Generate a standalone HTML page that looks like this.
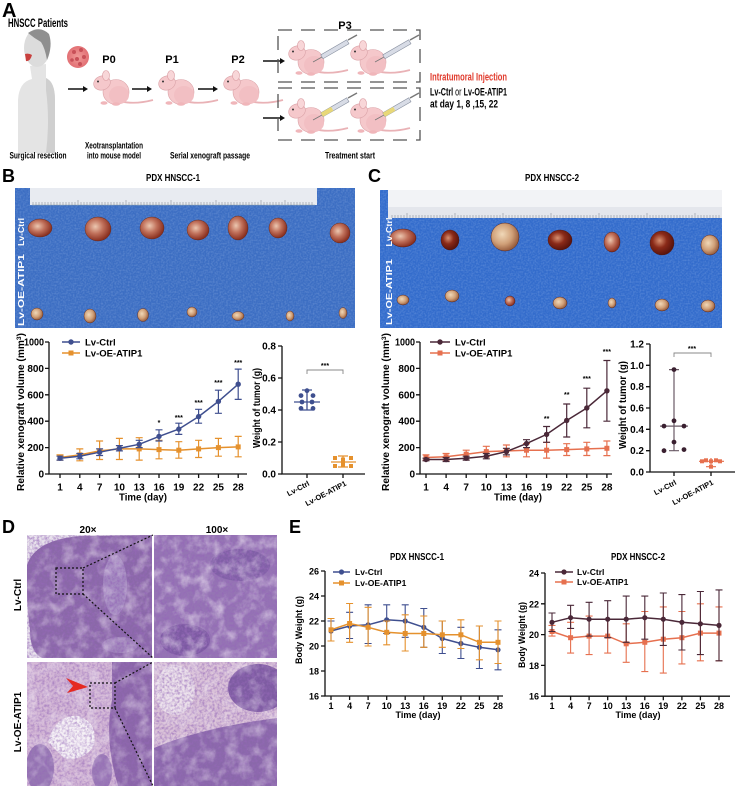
<!DOCTYPE html>
<html><head><meta charset="utf-8"><style>
html,body{margin:0;padding:0;background:#fff;}
body{width:739px;height:786px;overflow:hidden;}
svg{display:block;}
text{font-family:"Liberation Sans",Arial,sans-serif;font-weight:bold;}
</style></head><body>
<svg width="739" height="786" viewBox="0 0 739 786" xmlns="http://www.w3.org/2000/svg">
<defs>
<filter id="pnoise" x="0" y="0" width="1" height="1"><feTurbulence type="fractalNoise" baseFrequency="0.4" numOctaves="3" seed="4"/><feColorMatrix type="matrix" values="0 0 0 0 0.3  0 0 0 0 0.14  0 0 0 0 0.48  2.4 0 0 0 -0.9"/></filter>
<filter id="wnoise" x="0" y="0" width="1" height="1"><feTurbulence type="fractalNoise" baseFrequency="0.08" numOctaves="4" seed="9"/><feColorMatrix type="matrix" values="0 0 0 0 0.9  0 0 0 0 0.84  0 0 0 0 0.92  2.4 0 0 0 -1.05"/></filter>
<filter id="bnoise" x="0" y="0" width="1" height="1"><feTurbulence type="fractalNoise" baseFrequency="0.6" numOctaves="1" seed="2"/><feColorMatrix type="matrix" values="0 0 0 0 0.7  0 0 0 0 0.82  0 0 0 0 1  1.2 0 0 0 -0.45"/></filter>
<radialGradient id="tum" cx="40%" cy="40%" r="60%"><stop offset="0" stop-color="#ecc7b0"/><stop offset="0.5" stop-color="#c0705a"/><stop offset="1" stop-color="#8a3020"/></radialGradient>
<radialGradient id="tumd" cx="40%" cy="40%" r="60%"><stop offset="0" stop-color="#d89070"/><stop offset="0.5" stop-color="#8a2a18"/><stop offset="1" stop-color="#5a140c"/></radialGradient>
<radialGradient id="tums" cx="40%" cy="40%" r="60%"><stop offset="0" stop-color="#f0d8b8"/><stop offset="0.6" stop-color="#d0a078"/><stop offset="1" stop-color="#9a6040"/></radialGradient>
<radialGradient id="tball" cx="50%" cy="50%" r="50%"><stop offset="0" stop-color="#f09a98"/><stop offset="1" stop-color="#e27074"/></radialGradient>
<g id="mouse">
<path d="M27,31 Q42,35 61,30" stroke="#e9b2b6" stroke-width="1.8" fill="none"/>
<ellipse cx="24" cy="22" rx="13" ry="12.5" fill="#f5c8cb" stroke="#dba3a8" stroke-width="0.6"/>
<ellipse cx="27" cy="25" rx="10" ry="9" fill="#f2bfc3"/>
<ellipse cx="10" cy="13" rx="8.5" ry="7" fill="#f5c8cb" stroke="#dba3a8" stroke-width="0.6" transform="rotate(-20 10 13)"/>
<ellipse cx="14" cy="5.5" rx="3.5" ry="5" fill="#f8d6d8" stroke="#d99aa0" stroke-width="0.6"/>
<circle cx="6" cy="11.5" r="1" fill="#333"/>
<ellipse cx="12" cy="33" rx="3.5" ry="1.8" fill="#f0b6ba"/>
<ellipse cx="24" cy="34" rx="4" ry="1.8" fill="#f0b6ba"/>
</g>
</defs>

<!-- ============ PANEL A ============ -->
<text x="2" y="17" font-size="20">A</text>
<text x="8" y="27" font-size="12" textLength="60" lengthAdjust="spacingAndGlyphs">HNSCC Patients</text>
<!-- person -->
<path d="M18,153 L18,100 Q19,82 32,79 L30,66 L46,64 L46,78 Q55,82 55,100 L55,153 Z" fill="#e4e4e4"/>
<path d="M46,78 Q55,82 55,100 L55,153 L46,153 Q50,120 46,90 Z" fill="#cfcfcf"/>
<ellipse cx="37" cy="48" rx="13" ry="19" fill="#dcdcdc"/>
<path d="M28,33 Q40,25 49,34 Q53,46 47,60 Q45,48 41,42 Q34,38 28,33 Z" fill="#8f8f8f"/>
<path d="M25,54 Q29,53 32,55 Q30,62 26,61 Z" fill="#c8403e"/>
<!-- tumour ball -->
<circle cx="78" cy="57" r="11" fill="url(#tball)"/>
<g fill="#c85058"><circle cx="74" cy="52" r="2"/><circle cx="81" cy="50" r="2"/><circle cx="84" cy="57" r="2"/><circle cx="77" cy="59" r="2"/><circle cx="72" cy="60" r="1.8"/><circle cx="80" cy="64" r="2"/></g>
<!-- labels -->
<g font-size="11" text-anchor="middle">
<text x="109" y="63">P0</text>
<text x="172" y="63">P1</text>
<text x="238" y="63">P2</text>
<text x="345" y="29">P3</text>
</g>
<!-- arrows -->
<g stroke="#111" stroke-width="1.4" fill="#111">
<line x1="68" y1="89" x2="85" y2="89"/><path d="M88,89 l-5,-3 v6 z" stroke="none"/>
<line x1="132" y1="89" x2="149" y2="89"/><path d="M152,89 l-5,-3 v6 z" stroke="none"/>
<line x1="198" y1="89" x2="215" y2="89"/><path d="M218,89 l-5,-3 v6 z" stroke="none"/>
<line x1="263" y1="61" x2="282" y2="61"/><path d="M285,61 l-5,-3 v6 z" stroke="none"/>
<line x1="263" y1="118" x2="282" y2="118"/><path d="M285,118 l-5,-3 v6 z" stroke="none"/>
</g>
<!-- mice -->
<use href="#mouse" transform="translate(92,70)"/>
<use href="#mouse" transform="translate(157,70)"/>
<use href="#mouse" transform="translate(222,70)"/>
<!-- dashed boxes -->
<g stroke="#555" stroke-width="1.3" fill="none" stroke-dasharray="14,9">
<rect x="278" y="30" width="142" height="52"/>
<rect x="278" y="88" width="142" height="52"/>
</g>
<use href="#mouse" transform="translate(287,40)"/>
<use href="#mouse" transform="translate(349,40)"/>
<use href="#mouse" transform="translate(287,98)"/>
<use href="#mouse" transform="translate(349,98)"/>
<!-- syringes -->
<g>
<line x1="313" y1="62" x2="322" y2="57" stroke="#777" stroke-width="0.8"/>
<rect x="322" y="54.5" width="30" height="4.5" fill="#d8dce6" stroke="#8890a0" stroke-width="0.6" transform="rotate(-30 322 57)"/>
<line x1="348" y1="40" x2="357" y2="35" stroke="#777" stroke-width="1.4"/>
<line x1="375" y1="62" x2="384" y2="57" stroke="#777" stroke-width="0.8"/>
<rect x="384" y="54.5" width="30" height="4.5" fill="#d8dce6" stroke="#8890a0" stroke-width="0.6" transform="rotate(-30 384 57)"/>
<line x1="410" y1="40" x2="419" y2="35" stroke="#777" stroke-width="1.4"/>
<line x1="313" y1="120" x2="322" y2="115" stroke="#777" stroke-width="0.8"/>
<rect x="322" y="112.5" width="30" height="4.5" fill="#d8dce6" stroke="#8890a0" stroke-width="0.6" transform="rotate(-30 322 115)"/>
<rect x="322" y="112.5" width="12" height="4.5" fill="#e8d878" transform="rotate(-30 322 115)"/>
<line x1="348" y1="98" x2="357" y2="93" stroke="#777" stroke-width="1.4"/>
<line x1="375" y1="120" x2="384" y2="115" stroke="#777" stroke-width="0.8"/>
<rect x="384" y="112.5" width="30" height="4.5" fill="#d8dce6" stroke="#8890a0" stroke-width="0.6" transform="rotate(-30 384 115)"/>
<rect x="384" y="112.5" width="12" height="4.5" fill="#e8d878" transform="rotate(-30 384 115)"/>
<line x1="410" y1="98" x2="419" y2="93" stroke="#777" stroke-width="1.4"/>
</g>
<text x="430" y="80.5" font-size="11" fill="#e0382a" textLength="77" lengthAdjust="spacingAndGlyphs">Intratumoral Injection</text>
<text x="430" y="95.5" font-size="11" textLength="77" lengthAdjust="spacingAndGlyphs">Lv-Ctrl <tspan font-weight="normal">or</tspan> Lv-OE-ATIP1</text>
<text x="430" y="107.5" font-size="11" textLength="68" lengthAdjust="spacingAndGlyphs">at day 1, 8 ,15, 22</text>
<g font-size="9" text-anchor="middle">
<text x="38" y="158.5" textLength="57" lengthAdjust="spacingAndGlyphs">Surgical resection</text>
<text x="114" y="148.5" textLength="58" lengthAdjust="spacingAndGlyphs">Xeotransplantation</text>
<text x="114" y="158.5" textLength="54" lengthAdjust="spacingAndGlyphs">into mouse model</text>
<text x="210" y="158.5" textLength="80" lengthAdjust="spacingAndGlyphs">Serial xenograft passage</text>
<text x="350" y="158.5" textLength="50" lengthAdjust="spacingAndGlyphs">Treatment start</text>
</g>

<!-- ============ PANEL B ============ -->
<text x="2" y="182" font-size="18">B</text>
<text x="173" y="181" font-size="10.5" text-anchor="middle" textLength="54" lengthAdjust="spacingAndGlyphs">PDX HNSCC-1</text>
<rect x="15" y="188" width="340" height="140" fill="#3c6ec3"/>
<rect x="15" y="188" width="340" height="140" filter="url(#bnoise)" opacity="0.35"/>
<rect x="30" y="188" width="287" height="17" fill="#e8ebf1"/>
<path d="M32,205 h283" stroke="#9aa" stroke-width="0.5"/>
<g stroke="#8a8f9a" stroke-width="0.6">
<path d="M33,205v-3M36,205v-3M39,205v-3M42,205v-3M45,205v-3M48,205v-3M51,205v-3M54,205v-3M57,205v-3M60,205v-3M63,205v-3M66,205v-3M69,205v-3M72,205v-3M75,205v-3M78,205v-5M81,205v-3M84,205v-3M87,205v-3M90,205v-3M93,205v-3M96,205v-3M99,205v-3M102,205v-3M105,205v-3M108,205v-3M111,205v-3M114,205v-3M117,205v-3M120,205v-3M123,205v-3M126,205v-5M129,205v-3M132,205v-3M135,205v-3M138,205v-3M141,205v-3M144,205v-3M147,205v-3M150,205v-3M153,205v-3M156,205v-3M159,205v-3M162,205v-3M165,205v-3M168,205v-3M171,205v-5M174,205v-3M177,205v-3M180,205v-3M183,205v-3M186,205v-3M189,205v-3M192,205v-3M195,205v-3M198,205v-3M201,205v-3M204,205v-3M207,205v-3M210,205v-3M213,205v-3M216,205v-5M219,205v-3M222,205v-3M225,205v-3M228,205v-3M231,205v-3M234,205v-3M237,205v-3M240,205v-3M243,205v-3M246,205v-3M249,205v-3M252,205v-3M255,205v-3M258,205v-3M261,205v-5M264,205v-3M267,205v-3M270,205v-3M273,205v-3M276,205v-3M279,205v-3M282,205v-3M285,205v-5M288,205v-3M291,205v-3M294,205v-3M297,205v-3M300,205v-3M303,205v-3M306,205v-3M309,205v-3M312,205v-3"/>
</g>
<!-- tumours B -->
<g stroke="#5a2010" stroke-width="0.4">
<ellipse cx="40" cy="228" rx="12" ry="9" fill="url(#tum)"/>
<ellipse cx="98" cy="229" rx="13" ry="12" fill="url(#tum)"/>
<ellipse cx="152" cy="228" rx="12" ry="11" fill="url(#tum)"/>
<ellipse cx="198" cy="230" rx="11" ry="10" fill="url(#tum)"/>
<ellipse cx="238" cy="228" rx="10" ry="12" fill="url(#tum)"/>
<ellipse cx="278" cy="228" rx="9" ry="10" fill="url(#tum)"/>
<ellipse cx="340" cy="233" rx="10" ry="10" fill="url(#tum)"/>
<ellipse cx="37" cy="314" rx="6" ry="6" fill="url(#tums)"/>
<ellipse cx="90" cy="316" rx="6" ry="7" fill="url(#tums)"/>
<ellipse cx="143" cy="315" rx="5.5" ry="6.5" fill="url(#tums)"/>
<ellipse cx="192" cy="312" rx="5" ry="5" fill="url(#tums)"/>
<ellipse cx="238" cy="316" rx="6" ry="4.5" fill="url(#tums)"/>
<ellipse cx="290" cy="316" rx="4" ry="5" fill="url(#tums)"/>
<ellipse cx="343" cy="313" rx="4" ry="5.5" fill="url(#tums)"/>
</g>
<text transform="translate(24,232) rotate(-90)" font-size="8.5" fill="#fff" text-anchor="middle" textLength="28" lengthAdjust="spacingAndGlyphs">Lv-Ctrl</text>
<text transform="translate(24,290) rotate(-90)" font-size="8.5" fill="#fff" text-anchor="middle" textLength="72" lengthAdjust="spacingAndGlyphs">Lv-OE-ATIP1</text>

<!-- B line chart -->
<g stroke="#111" stroke-width="1.3" fill="none">
<path d="M49,342V474H247"/>
<path d="M45,474h4M45,447.6h4M45,421.2h4M45,394.8h4M45,368.4h4M45,342h4"/>
<path d="M60,474v4M79.8,474v4M99.6,474v4M119.4,474v4M139.2,474v4M159,474v4M178.8,474v4M198.6,474v4M218.4,474v4M238.2,474v4"/>
</g>
<g font-size="10" text-anchor="end">
<text x="44" y="477.5">0</text><text x="44" y="451">200</text><text x="44" y="424.7">400</text><text x="44" y="398.3">600</text><text x="44" y="371.9">800</text><text x="44" y="345.5" textLength="20" lengthAdjust="spacingAndGlyphs">1000</text>
</g>
<g font-size="10" text-anchor="middle">
<text x="60" y="490.5">1</text><text x="79.8" y="490.5">4</text><text x="99.6" y="490.5">7</text><text x="119.4" y="490.5">10</text><text x="139.2" y="490.5">13</text><text x="159" y="490.5">16</text><text x="178.8" y="490.5">19</text><text x="198.6" y="490.5">22</text><text x="218.4" y="490.5">25</text><text x="238.2" y="490.5">28</text>
<text x="143" y="500.5" textLength="48" lengthAdjust="spacingAndGlyphs">Time (day)</text>
</g>
<text transform="translate(24,412) rotate(-90)" font-size="10" text-anchor="middle" textLength="158" lengthAdjust="spacingAndGlyphs">Relative xenograft volume (mm<tspan font-size="6.5" dy="-3">3</tspan><tspan dy="3">)</tspan></text>
<!-- OE B -->
<g stroke="#e5912d" stroke-width="1.2" fill="none">
<path d="M60,460.1V454.9M56.5,460.1h7M56.5,454.9h7M79.8,460.8V448.9M76.3,460.8h7M76.3,448.9h7M99.6,459.5V441M96.1,459.5h7M96.1,441h7M119.4,459.5V438.4M115.9,459.5h7M115.9,438.4h7M139.2,460.1V437.7M135.7,460.1h7M135.7,437.7h7M159,458.8V440.3M155.5,458.8h7M155.5,440.3h7M178.8,458.2V441.7M175.3,458.2h7M175.3,441.7h7M198.6,457.5V440.3M195.1,457.5h7M195.1,440.3h7M218.4,456.2V438.4M214.9,456.2h7M214.9,438.4h7M238.2,456.8V436.4M234.7,456.8h7M234.7,436.4h7"/>
<path d="M60,457.5L79.8,454.9L99.6,450.9L119.4,448.9L139.2,448.9L159,449.6L178.8,450.2L198.6,448.9L218.4,447.6L238.2,446.9" stroke-width="1.5"/>
</g>
<g fill="#e5912d">
<rect x="57.5" y="455" width="5" height="5"/><rect x="77.3" y="452.4" width="5" height="5"/><rect x="97.1" y="448.4" width="5" height="5"/><rect x="116.9" y="446.4" width="5" height="5"/><rect x="136.7" y="446.4" width="5" height="5"/><rect x="156.5" y="447.1" width="5" height="5"/><rect x="176.3" y="447.7" width="5" height="5"/><rect x="196.1" y="446.4" width="5" height="5"/><rect x="215.9" y="445.1" width="5" height="5"/><rect x="235.7" y="444.4" width="5" height="5"/>
</g>
<!-- Ctrl B -->
<g stroke="#3f4f8f" stroke-width="1.2" fill="none">
<path d="M60,460.1V456.2M56.5,460.1h7M56.5,456.2h7M79.8,458.8V453.5M76.3,458.8h7M76.3,453.5h7M99.6,455.5V448.9M96.1,455.5h7M96.1,448.9h7M119.4,450.9V445.6M115.9,450.9h7M115.9,445.6h7M139.2,447.6V440.3M135.7,447.6h7M135.7,440.3h7M159,441V429.8M155.5,441h7M155.5,429.8h7M178.8,434.4V423.2M175.3,434.4h7M175.3,423.2h7M198.6,423.2V409.3M195.1,423.2h7M195.1,409.3h7M218.4,413.3V390.2M214.9,413.3h7M214.9,390.2h7M238.2,399.4V369.1M234.7,399.4h7M234.7,369.1h7"/>
<path d="M60,458.2L79.8,456.2L99.6,452.2L119.4,448.3L139.2,444.3L159,436.4L178.8,429.1L198.6,416.6L218.4,401.4L238.2,384.2" stroke-width="1.5"/>
</g>
<g fill="#3f4f8f">
<circle cx="60" cy="458.2" r="2.7"/><circle cx="79.8" cy="456.2" r="2.7"/><circle cx="99.6" cy="452.2" r="2.7"/><circle cx="119.4" cy="448.3" r="2.7"/><circle cx="139.2" cy="444.3" r="2.7"/><circle cx="159" cy="436.4" r="2.7"/><circle cx="178.8" cy="429.1" r="2.7"/><circle cx="198.6" cy="416.6" r="2.7"/><circle cx="218.4" cy="401.4" r="2.7"/><circle cx="238.2" cy="384.2" r="2.7"/>
</g>
<g font-size="7" text-anchor="middle">
<text x="159" y="425">*</text><text x="178.8" y="420">***</text><text x="198.6" y="405">***</text><text x="218.4" y="385">***</text><text x="238.2" y="365">***</text>
</g>
<!-- legend B -->
<g stroke-width="1.5">
<line x1="62" y1="342" x2="80" y2="342" stroke="#3f4f8f"/><circle cx="71" cy="342" r="2.7" fill="#3f4f8f"/>
<line x1="62" y1="353" x2="80" y2="353" stroke="#e5912d"/><rect x="68.5" y="350.5" width="5" height="5" fill="#e5912d"/>
</g>
<text x="85" y="345.5" font-size="9.5">Lv-Ctrl</text>
<text x="85" y="356.5" font-size="9.5">Lv-OE-ATIP1</text>

<!-- B scatter -->
<g stroke="#111" stroke-width="1.3" fill="none">
<path d="M282,346V474H365"/>
<path d="M278,474h4M278,442h4M278,410h4M278,378h4M278,346h4"/>
<path d="M307,474v4M343,474v4"/>
</g>
<g font-size="10" text-anchor="end">
<text x="276" y="477.5">0.0</text><text x="276" y="445.5">0.2</text><text x="276" y="413.5">0.4</text><text x="276" y="381.5">0.6</text><text x="276" y="349.5">0.8</text>
</g>
<text transform="translate(260,408) rotate(-90)" font-size="10" text-anchor="middle" textLength="80" lengthAdjust="spacingAndGlyphs">Weight of tumor (g)</text>
<path d="M307,374V370H343V374" stroke="#888" stroke-width="0.9" fill="none"/>
<text x="325" y="368" font-size="7" text-anchor="middle">***</text>
<g fill="#3f4f8f">
<circle cx="307" cy="390.7" r="2.4"/><circle cx="301" cy="395.6" r="2.4"/><circle cx="313" cy="395.6" r="2.4"/><circle cx="302" cy="402" r="2.4"/><circle cx="312" cy="402" r="2.4"/><circle cx="301" cy="408.4" r="2.4"/><circle cx="313" cy="408.4" r="2.4"/>
</g>
<path d="M294,402H320M307,390V410M302,390h10M302,410h10" stroke="#3f4f8f" stroke-width="1.3" fill="none"/>
<g fill="#e5912d">
<rect x="333" y="456" width="4" height="4"/><rect x="349" y="456" width="4" height="4"/><rect x="341" y="457.5" width="4" height="4"/><rect x="341" y="462.5" width="4" height="4"/><rect x="333" y="464" width="4" height="4"/><rect x="349" y="464" width="4" height="4"/>
</g>
<path d="M331,462H356M343,456V467M338,456h10M338,467h10" stroke="#e5912d" stroke-width="1.3" fill="none"/>
<text transform="translate(310,485) rotate(-28)" font-size="7.5" text-anchor="end">Lv-Ctrl</text>
<text transform="translate(347,485) rotate(-28)" font-size="7.5" text-anchor="end">Lv-OE-ATIP1</text>

<!-- ============ PANEL C ============ -->
<text x="368" y="182" font-size="18">C</text>
<text x="552" y="181" font-size="10.5" text-anchor="middle" textLength="54" lengthAdjust="spacingAndGlyphs">PDX HNSCC-2</text>
<rect x="380" y="190" width="342" height="138" fill="#336ccc"/>
<rect x="380" y="190" width="342" height="138" filter="url(#bnoise)" opacity="0.35"/>
<rect x="388" y="190" width="334" height="28" fill="#f2f3f6"/>
<rect x="388" y="207" width="334" height="11" fill="#e4e6ec"/>
<g stroke="#8a8f9a" stroke-width="0.6">
<path d="M392,218v-3M395,218v-3M398,218v-3M401,218v-3M404,218v-3M407,218v-5M410,218v-3M413,218v-3M416,218v-3M419,218v-3M422,218v-3M425,218v-3M428,218v-3M431,218v-3M434,218v-3M437,218v-3M440,218v-3M443,218v-3M446,218v-3M449,218v-3M452,218v-3M455,218v-5M458,218v-3M461,218v-3M464,218v-3M467,218v-3M470,218v-3M473,218v-3M476,218v-3M479,218v-3M482,218v-3M485,218v-3M488,218v-3M491,218v-3M494,218v-3M497,218v-3M500,218v-3M503,218v-5M506,218v-3M509,218v-3M512,218v-3M515,218v-3M518,218v-3M521,218v-3M524,218v-3M527,218v-3M530,218v-3M533,218v-3M536,218v-3M539,218v-3M542,218v-3M545,218v-3M548,218v-3M551,218v-5M554,218v-3M557,218v-3M560,218v-3M563,218v-3M566,218v-3M569,218v-3M572,218v-3M575,218v-3M578,218v-3M581,218v-3M584,218v-3M587,218v-3M590,218v-3M593,218v-3M596,218v-3M599,218v-5M602,218v-3M605,218v-3M608,218v-3M611,218v-3M614,218v-3M617,218v-3M620,218v-3M623,218v-3M626,218v-3M629,218v-3M632,218v-3M635,218v-3M638,218v-3M641,218v-3M644,218v-3M647,218v-5M650,218v-3M653,218v-3M656,218v-3M659,218v-3M662,218v-3M665,218v-3M668,218v-3M671,218v-3M674,218v-3M677,218v-3M680,218v-3M683,218v-3M686,218v-3M689,218v-3M692,218v-3M695,218v-5M698,218v-3M701,218v-3M704,218v-3M707,218v-3M710,218v-3M713,218v-3M716,218v-3M719,218v-3"/>
</g>
<g stroke="#4a1008" stroke-width="0.4">
<ellipse cx="403" cy="238" rx="13" ry="9" fill="url(#tum)"/>
<ellipse cx="450" cy="240" rx="9" ry="10" fill="url(#tumd)"/>
<ellipse cx="505" cy="237" rx="14" ry="14" fill="url(#tums)"/>
<ellipse cx="560" cy="240" rx="12" ry="10" fill="url(#tumd)"/>
<ellipse cx="612" cy="242" rx="8" ry="10" fill="url(#tum)"/>
<ellipse cx="662" cy="243" rx="12" ry="12" fill="url(#tumd)"/>
<ellipse cx="710" cy="245" rx="9" ry="10" fill="url(#tums)"/>
<ellipse cx="403" cy="300" rx="6" ry="5" fill="url(#tums)"/>
<ellipse cx="452" cy="296" rx="7" ry="6" fill="url(#tums)"/>
<ellipse cx="510" cy="301" rx="5" ry="5" fill="url(#tum)"/>
<ellipse cx="560" cy="303" rx="7" ry="6" fill="url(#tums)"/>
<ellipse cx="612" cy="303" rx="4" ry="5" fill="url(#tums)"/>
<ellipse cx="662" cy="305" rx="7" ry="6" fill="url(#tums)"/>
<ellipse cx="708" cy="306" rx="7" ry="6" fill="url(#tums)"/>
</g>
<text transform="translate(392,232) rotate(-90)" font-size="8.5" fill="#fff" text-anchor="middle" textLength="29" lengthAdjust="spacingAndGlyphs">Lv-Ctrl</text>
<text transform="translate(392,292) rotate(-90)" font-size="8.5" fill="#fff" text-anchor="middle" textLength="66" lengthAdjust="spacingAndGlyphs">Lv-OE-ATIP1</text>

<!-- C line chart -->
<g stroke="#111" stroke-width="1.3" fill="none">
<path d="M420,342V474H612"/>
<path d="M416,474h4M416,447.6h4M416,421.2h4M416,394.8h4M416,368.4h4M416,342h4"/>
<path d="M426,474v4M446.1,474v4M466.2,474v4M486.3,474v4M506.4,474v4M526.5,474v4M546.6,474v4M566.7,474v4M586.8,474v4M606.9,474v4"/>
</g>
<g font-size="10" text-anchor="end">
<text x="415" y="477.5">0</text><text x="415" y="451">200</text><text x="415" y="424.7">400</text><text x="415" y="398.3">600</text><text x="415" y="371.9">800</text><text x="415" y="345.5" textLength="20" lengthAdjust="spacingAndGlyphs">1000</text>
</g>
<g font-size="10" text-anchor="middle">
<text x="426" y="490.5">1</text><text x="446.1" y="490.5">4</text><text x="466.2" y="490.5">7</text><text x="486.3" y="490.5">10</text><text x="506.4" y="490.5">13</text><text x="526.5" y="490.5">16</text><text x="546.6" y="490.5">19</text><text x="566.7" y="490.5">22</text><text x="586.8" y="490.5">25</text><text x="606.9" y="490.5">28</text>
<text x="518" y="500.5" textLength="48" lengthAdjust="spacingAndGlyphs">Time (day)</text>
</g>
<text transform="translate(389,412) rotate(-90)" font-size="10" text-anchor="middle" textLength="158" lengthAdjust="spacingAndGlyphs">Relative xenograft volume (mm<tspan font-size="6.5" dy="-3">3</tspan><tspan dy="3">)</tspan></text>
<g stroke="#e6704f" stroke-width="1.2" fill="none">
<path d="M426,460.1V454.9M422.5,460.1h7M422.5,454.9h7M446.1,460.1V453.5M442.6,460.1h7M442.6,453.5h7M466.2,458.2V450.2M462.7,458.2h7M462.7,450.2h7M486.3,456.9V446.3M482.8,456.9h7M482.8,446.3h7M506.4,456.8V445M502.9,456.8h7M502.9,445h7M526.5,456.8V443.6M523,456.8h7M523,443.6h7M546.6,458.1V442.3M543.1,458.1h7M543.1,442.3h7M566.7,455.5V443.7M563.2,455.5h7M563.2,443.7h7M586.8,455.5V442.3M583.3,455.5h7M583.3,442.3h7M606.9,455.6V441M603.4,455.6h7M603.4,441h7"/>
<path d="M426,457.5L446.1,456.8L466.2,454.2L486.3,451.6L506.4,450.9L526.5,450.2L546.6,450.2L566.7,449.6L586.8,448.9L606.9,448.3" stroke-width="1.5"/>
</g>
<g fill="#e6704f">
<rect x="423.5" y="455" width="5" height="5"/><rect x="443.6" y="454.3" width="5" height="5"/><rect x="463.7" y="451.7" width="5" height="5"/><rect x="483.8" y="449.1" width="5" height="5"/><rect x="503.9" y="448.4" width="5" height="5"/><rect x="524" y="447.7" width="5" height="5"/><rect x="544.1" y="447.7" width="5" height="5"/><rect x="564.2" y="447.1" width="5" height="5"/><rect x="584.3" y="446.4" width="5" height="5"/><rect x="604.4" y="445.8" width="5" height="5"/>
</g>
<g stroke="#4a2838" stroke-width="1.2" fill="none">
<path d="M426,460.8V458.2M422.5,460.8h7M422.5,458.2h7M446.1,461.5V457.5M442.6,461.5h7M442.6,457.5h7M466.2,460.1V456.2M462.7,460.1h7M462.7,456.2h7M486.3,458.8V453.5M482.8,458.8h7M482.8,453.5h7M506.4,454.9V448.3M502.9,454.9h7M502.9,448.3h7M526.5,447.6V439.7M523,447.6h7M523,439.7h7M546.6,442.3V426.5M543.1,442.3h7M543.1,426.5h7M566.7,437V404M563.2,437h7M563.2,404h7M586.8,427.8V388.2M583.3,427.8h7M583.3,388.2h7M606.9,421.2V360.5M603.4,421.2h7M603.4,360.5h7"/>
<path d="M426,459.5L446.1,459.5L466.2,458.2L486.3,456.2L506.4,451.6L526.5,443.6L546.6,434.4L566.7,420.5L586.8,408L606.9,390.8" stroke-width="1.5"/>
</g>
<g fill="#4a2838">
<circle cx="426" cy="459.5" r="2.7"/><circle cx="446.1" cy="459.5" r="2.7"/><circle cx="466.2" cy="458.2" r="2.7"/><circle cx="486.3" cy="456.2" r="2.7"/><circle cx="506.4" cy="451.6" r="2.7"/><circle cx="526.5" cy="443.6" r="2.7"/><circle cx="546.6" cy="434.4" r="2.7"/><circle cx="566.7" cy="420.5" r="2.7"/><circle cx="586.8" cy="408" r="2.7"/><circle cx="606.9" cy="390.8" r="2.7"/>
</g>
<g font-size="7" text-anchor="middle">
<text x="546.6" y="421">**</text><text x="566.7" y="397">**</text><text x="586.8" y="381">***</text><text x="606.9" y="354">***</text>
</g>
<g stroke-width="1.5">
<line x1="430" y1="342" x2="450" y2="342" stroke="#4a2838"/><circle cx="440" cy="342" r="2.7" fill="#4a2838"/>
<line x1="430" y1="353" x2="450" y2="353" stroke="#e6704f"/><rect x="437.5" y="350.5" width="5" height="5" fill="#e6704f"/>
</g>
<text x="455" y="345.5" font-size="9.5">Lv-Ctrl</text>
<text x="455" y="356.5" font-size="9.5">Lv-OE-ATIP1</text>

<!-- C scatter -->
<g stroke="#111" stroke-width="1.3" fill="none">
<path d="M650,344V472H735"/>
<path d="M646,472h4M646,450.7h4M646,429.3h4M646,408h4M646,386.7h4M646,365.3h4M646,344h4"/>
<path d="M674,472v4M711,472v4"/>
</g>
<g font-size="10" text-anchor="end">
<text x="644" y="475.5">0.0</text><text x="644" y="454.2">0.2</text><text x="644" y="432.8">0.4</text><text x="644" y="411.5">0.6</text><text x="644" y="390.2">0.8</text><text x="644" y="368.8">1.0</text><text x="644" y="347.5">1.2</text>
</g>
<text transform="translate(626,405) rotate(-90)" font-size="10" text-anchor="middle" textLength="88" lengthAdjust="spacingAndGlyphs">Weight of tumor (g)</text>
<path d="M674,357V353H711V357" stroke="#888" stroke-width="0.9" fill="none"/>
<text x="692" y="351" font-size="7" text-anchor="middle">***</text>
<path d="M660,426.1H688M674,369.6V450.7M669,369.6h10M669,450.7h10" stroke="#6a5a66" stroke-width="1.2" fill="none"/>
<g fill="#3a2030">
<circle cx="674" cy="369.6" r="2.4"/><circle cx="674" cy="420.8" r="2.4"/><circle cx="664" cy="426.1" r="2.4"/><circle cx="684" cy="426.1" r="2.4"/><circle cx="674" cy="442.1" r="2.4"/><circle cx="664" cy="450.7" r="2.4"/><circle cx="684" cy="449.6" r="2.4"/>
</g>
<g fill="#e6704f">
<rect x="700" y="459.3" width="4" height="4"/><rect x="709" y="459.3" width="4" height="4"/><rect x="718" y="459.3" width="4" height="4"/><rect x="704" y="458.3" width="4" height="4"/><rect x="714" y="458.3" width="4" height="4"/><rect x="709" y="464.7" width="4" height="4"/>
</g>
<path d="M699,461.3H724M711,458V466.7M706,466.7h10" stroke="#e6704f" stroke-width="1.2" fill="none"/>
<text transform="translate(677,484) rotate(-28)" font-size="7.5" text-anchor="end">Lv-Ctrl</text>
<text transform="translate(714,484) rotate(-28)" font-size="7.5" text-anchor="end">Lv-OE-ATIP1</text>

<!-- ============ PANEL D ============ -->
<text x="2" y="533" font-size="18">D</text>
<text x="88" y="533" font-size="10" text-anchor="middle">20×</text>
<text x="217" y="533" font-size="10" text-anchor="middle">100×</text>
<text transform="translate(21,595) rotate(-90)" font-size="10" text-anchor="middle">Lv-Ctrl</text>
<text transform="translate(21,722) rotate(-90)" font-size="10" text-anchor="middle">Lv-OE-ATIP1</text>
<clipPath id="c1"><rect x="27" y="535" width="125" height="123"/></clipPath>
<clipPath id="c2"><rect x="154" y="535" width="123" height="123"/></clipPath>
<clipPath id="c3"><rect x="27" y="662" width="125" height="124"/></clipPath>
<clipPath id="c4"><rect x="154" y="662" width="123" height="124"/></clipPath>
<g clip-path="url(#c1)">
<rect x="27" y="535" width="125" height="123" fill="#e8e2ec"/>
<path d="M27,565 Q35,540 80,536 L152,535 L152,658 L42,658 Q30,652 30,630 Q27,610 27,590 Z" fill="#8a68a8"/>
<ellipse cx="115" cy="585" rx="12" ry="30" fill="#a48ac0"/>
<ellipse cx="120" cy="645" rx="18" ry="8" fill="#a085bb"/>
<rect x="27" y="535" width="125" height="123" filter="url(#pnoise)" opacity="0.75"/>
<rect x="27" y="535" width="125" height="123" filter="url(#wnoise)" opacity="0.45"/>
</g>
<g clip-path="url(#c2)">
<rect x="154" y="535" width="123" height="123" fill="#9575b4"/>
<ellipse cx="240" cy="565" rx="30" ry="16" fill="#8060a6"/>
<ellipse cx="185" cy="640" rx="25" ry="16" fill="#7c5aa2"/>
<rect x="154" y="535" width="123" height="123" filter="url(#pnoise)" opacity="0.8"/>
<rect x="154" y="535" width="123" height="123" filter="url(#wnoise)" opacity="0.55"/>
</g>
<g clip-path="url(#c3)">
<rect x="27" y="662" width="125" height="124" fill="#d4b8d6"/>
<path d="M112,662 L152,662 L152,786 L118,786 Q104,740 112,700 Z" fill="#8a66a8"/>
<ellipse cx="40" cy="768" rx="14" ry="24" fill="#9677b3"/>
<ellipse cx="102" cy="772" rx="10" ry="18" fill="#9a7ab6"/>
<path d="M48,742 Q56,714 78,716 Q98,722 94,745 Q84,762 64,758 Z" fill="#f6f2f6"/>
<rect x="27" y="662" width="125" height="124" filter="url(#pnoise)" opacity="0.6"/>
<rect x="27" y="662" width="125" height="124" filter="url(#wnoise)" opacity="0.45"/>
</g>
<g clip-path="url(#c4)">
<rect x="154" y="662" width="123" height="124" fill="#dac2d8"/>
<ellipse cx="258" cy="688" rx="30" ry="24" fill="#7e5ca2"/>
<path d="M154,748 Q200,728 277,718 L277,786 L154,786 Z" fill="#8a68aa"/>
<ellipse cx="175" cy="690" rx="20" ry="25" fill="#ebe0ea"/>
<rect x="154" y="662" width="123" height="124" filter="url(#pnoise)" opacity="0.65"/>
<rect x="154" y="662" width="123" height="124" filter="url(#wnoise)" opacity="0.45"/>
</g>
<g stroke="#111" stroke-width="1.2" fill="none" stroke-dasharray="2,2">
<rect x="56" y="568" width="27" height="26"/>
<path d="M83,568 L153,535 M83,594 L153,658"/>
<rect x="90" y="683" width="25" height="25"/>
<path d="M115,683 L153,662 M115,708 L153,786"/>
</g>
<path d="M88,687 L66,678 L73,686 L67,693 Z" fill="#e52a22"/>

<!-- ============ PANEL E ============ -->
<text x="289" y="533" font-size="18">E</text>
<!-- E1 -->
<text x="417" y="560" font-size="10" text-anchor="middle" textLength="54" lengthAdjust="spacingAndGlyphs">PDX HNSCC-1</text>
<g stroke="#111" stroke-width="1.3" fill="none">
<path d="M325,571V696H503"/>
<path d="M321,571h4M321,596h4M321,621h4M321,646h4M321,671h4M321,696h4"/>
<path d="M331,696v4M349.6,696v4M368.1,696v4M386.7,696v4M405.2,696v4M423.8,696v4M442.3,696v4M460.9,696v4M479.4,696v4M498,696v4"/>
</g>
<g font-size="9" text-anchor="end">
<text x="319" y="574.5">26</text><text x="319" y="599.5">24</text><text x="319" y="624.5">22</text><text x="319" y="649.5">20</text><text x="319" y="674.5">18</text><text x="319" y="699.5">16</text>
</g>
<g font-size="9" text-anchor="middle">
<text x="331" y="709">1</text><text x="349.6" y="709">4</text><text x="368.1" y="709">7</text><text x="386.7" y="709">10</text><text x="405.2" y="709">13</text><text x="423.8" y="709">16</text><text x="442.3" y="709">19</text><text x="460.9" y="709">22</text><text x="479.4" y="709">25</text><text x="498" y="709">28</text>
<text x="418" y="718" textLength="45" lengthAdjust="spacingAndGlyphs">Time (day)</text>
</g>
<text transform="translate(302,630) rotate(-90)" font-size="9.5" text-anchor="middle" textLength="68" lengthAdjust="spacingAndGlyphs">Body Weight (g)</text>
<g stroke="#3f4f8f" stroke-width="1.1" fill="none">
<path d="M331,641V621M327.5,641h7M327.5,621h7M349.6,638.5V612.3M346.1,638.5h7M346.1,612.3h7M368.1,643.5V604.8M364.6,643.5h7M364.6,604.8h7M386.7,633.5V604.8M383.2,633.5h7M383.2,604.8h7M405.2,637.3V604.8M401.7,637.3h7M401.7,604.8h7M423.8,647.3V608.5M420.3,647.3h7M420.3,608.5h7M442.3,653.5V621M438.8,653.5h7M438.8,621h7M460.9,658.5V627.3M457.4,658.5h7M457.4,627.3h7M479.4,668.5V626M475.9,668.5h7M475.9,626h7M498,669.8V629.8M494.5,669.8h7M494.5,629.8h7"/>
<path d="M331,631L349.6,626L368.1,624.8L386.7,619.8L405.2,621L423.8,627.3L442.3,638.5L460.9,643.5L479.4,647.3L498,649.8" stroke-width="1.5"/>
</g>
<g fill="#3f4f8f">
<circle cx="331" cy="631" r="2.6"/><circle cx="349.6" cy="626" r="2.6"/><circle cx="368.1" cy="624.8" r="2.6"/><circle cx="386.7" cy="619.8" r="2.6"/><circle cx="405.2" cy="621" r="2.6"/><circle cx="423.8" cy="627.3" r="2.6"/><circle cx="442.3" cy="638.5" r="2.6"/><circle cx="460.9" cy="643.5" r="2.6"/><circle cx="479.4" cy="647.3" r="2.6"/><circle cx="498" cy="649.8" r="2.6"/>
</g>
<g stroke="#e5912d" stroke-width="1.1" fill="none">
<path d="M331,641V618.5M327.5,641h7M327.5,618.5h7M349.6,642.3V603.5M346.1,642.3h7M346.1,603.5h7M368.1,646V607.3M364.6,646h7M364.6,607.3h7M386.7,644.8V621M383.2,644.8h7M383.2,621h7M405.2,651V614.8M401.7,651h7M401.7,614.8h7M423.8,647.3V616M420.3,647.3h7M420.3,616h7M442.3,647.3V621M438.8,647.3h7M438.8,621h7M460.9,648.5V619.8M457.4,648.5h7M457.4,619.8h7M479.4,659.8V626M475.9,659.8h7M475.9,626h7M498,663.5V621M494.5,663.5h7M494.5,621h7"/>
<path d="M331,629.8L349.6,623.5L368.1,627.3L386.7,632.3L405.2,633.5L423.8,633.5L442.3,634.8L460.9,634.8L479.4,642.3L498,642.3" stroke-width="1.5"/>
</g>
<g fill="#e5912d">
<rect x="328.5" y="627.3" width="5" height="5"/><rect x="347.1" y="621" width="5" height="5"/><rect x="365.6" y="624.8" width="5" height="5"/><rect x="384.2" y="629.8" width="5" height="5"/><rect x="402.7" y="631" width="5" height="5"/><rect x="421.3" y="631" width="5" height="5"/><rect x="439.8" y="632.3" width="5" height="5"/><rect x="458.4" y="632.3" width="5" height="5"/><rect x="476.9" y="639.8" width="5" height="5"/><rect x="495.5" y="639.8" width="5" height="5"/>
</g>
<g stroke-width="1.5">
<line x1="333" y1="572" x2="350" y2="572" stroke="#3f4f8f"/><circle cx="341.5" cy="572" r="2.6" fill="#3f4f8f"/>
<line x1="333" y1="583" x2="350" y2="583" stroke="#e5912d"/><rect x="339" y="580.5" width="5" height="5" fill="#e5912d"/>
</g>
<text x="355" y="575" font-size="8.5">Lv-Ctrl</text>
<text x="355" y="586" font-size="8.5">Lv-OE-ATIP1</text>

<!-- E2 -->
<text x="638" y="560" font-size="10" text-anchor="middle" textLength="54" lengthAdjust="spacingAndGlyphs">PDX HNSCC-2</text>
<g stroke="#111" stroke-width="1.3" fill="none">
<path d="M545,573V696.2H730"/>
<path d="M541,573h4M541,603.8h4M541,634.6h4M541,665.4h4M541,696.2h4"/>
<path d="M552,696.2v4M570.6,696.2v4M589.1,696.2v4M607.7,696.2v4M626.2,696.2v4M644.8,696.2v4M663.3,696.2v4M681.9,696.2v4M700.4,696.2v4M719,696.2v4"/>
</g>
<g font-size="9" text-anchor="end">
<text x="539" y="576.5">24</text><text x="539" y="607.3">22</text><text x="539" y="638.1">20</text><text x="539" y="668.9">18</text><text x="539" y="699.7">16</text>
</g>
<g font-size="9" text-anchor="middle">
<text x="552" y="709">1</text><text x="570.6" y="709">4</text><text x="589.1" y="709">7</text><text x="607.7" y="709">10</text><text x="626.2" y="709">13</text><text x="644.8" y="709">16</text><text x="663.3" y="709">19</text><text x="681.9" y="709">22</text><text x="700.4" y="709">25</text><text x="719" y="709">28</text>
<text x="638" y="718" textLength="45" lengthAdjust="spacingAndGlyphs">Time (day)</text>
</g>
<text transform="translate(525,635) rotate(-90)" font-size="9.5" text-anchor="middle" textLength="66" lengthAdjust="spacingAndGlyphs">Body Weight (g)</text>
<g stroke="#e6704f" stroke-width="1.1" fill="none">
<path d="M552,636.1V625.4M548.5,636.1h7M548.5,625.4h7M570.6,653.1V622.3M567.1,653.1h7M567.1,622.3h7M589.1,654.6V616.1M585.6,654.6h7M585.6,616.1h7M607.7,653.1V619.2M604.2,653.1h7M604.2,619.2h7M626.2,662.3V623.8M622.7,662.3h7M622.7,623.8h7M644.8,671.6V611.5M641.3,671.6h7M641.3,611.5h7M663.3,673.1V606.9M659.8,673.1h7M659.8,606.9h7M681.9,663.9V611.5M678.4,663.9h7M678.4,611.5h7M700.4,660.8V603.8M696.9,660.8h7M696.9,603.8h7M719,660.8V606.9M715.5,660.8h7M715.5,606.9h7"/>
<path d="M552,631.5L570.6,637.7L589.1,636.1L607.7,636.1L626.2,643.8L644.8,642.3L663.3,639.2L681.9,637.7L700.4,633.1L719,633.1" stroke-width="1.5"/>
</g>
<g fill="#e6704f">
<rect x="549.5" y="629" width="5" height="5"/><rect x="568.1" y="635.2" width="5" height="5"/><rect x="586.6" y="633.6" width="5" height="5"/><rect x="605.2" y="633.6" width="5" height="5"/><rect x="623.7" y="641.3" width="5" height="5"/><rect x="642.3" y="639.8" width="5" height="5"/><rect x="660.8" y="636.7" width="5" height="5"/><rect x="679.4" y="635.2" width="5" height="5"/><rect x="697.9" y="630.6" width="5" height="5"/><rect x="716.5" y="630.6" width="5" height="5"/>
</g>
<g stroke="#4a2838" stroke-width="1.1" fill="none">
<path d="M552,631.5V613M548.5,631.5h7M548.5,613h7M570.6,628.4V605.3M567.1,628.4h7M567.1,605.3h7M589.1,636.1V602.3M585.6,636.1h7M585.6,602.3h7M607.7,637.7V600.7M604.2,637.7h7M604.2,600.7h7M626.2,642.3V596.1M622.7,642.3h7M622.7,596.1h7M644.8,639.2V596.1M641.3,639.2h7M641.3,596.1h7M663.3,645.4V593M659.8,645.4h7M659.8,593h7M681.9,650V594.6M678.4,650h7M678.4,594.6h7M700.4,654.6V591.5M696.9,654.6h7M696.9,591.5h7M719,660.8V589.9M715.5,660.8h7M715.5,589.9h7"/>
<path d="M552,622.3L570.6,617.7L589.1,619.2L607.7,619.2L626.2,619.2L644.8,617.7L663.3,619.2L681.9,622.3L700.4,623.8L719,625.4" stroke-width="1.5"/>
</g>
<g fill="#4a2838">
<circle cx="552" cy="622.3" r="2.6"/><circle cx="570.6" cy="617.7" r="2.6"/><circle cx="589.1" cy="619.2" r="2.6"/><circle cx="607.7" cy="619.2" r="2.6"/><circle cx="626.2" cy="619.2" r="2.6"/><circle cx="644.8" cy="617.7" r="2.6"/><circle cx="663.3" cy="619.2" r="2.6"/><circle cx="681.9" cy="622.3" r="2.6"/><circle cx="700.4" cy="623.8" r="2.6"/><circle cx="719" cy="625.4" r="2.6"/>
</g>
<g stroke-width="1.5">
<line x1="555" y1="572" x2="573" y2="572" stroke="#4a2838"/><circle cx="564" cy="572" r="2.6" fill="#4a2838"/>
<line x1="555" y1="582" x2="573" y2="582" stroke="#e6704f"/><rect x="561.5" y="579.5" width="5" height="5" fill="#e6704f"/>
</g>
<text x="577" y="575" font-size="8.5">Lv-Ctrl</text>
<text x="577" y="585" font-size="8.5">Lv-OE-ATIP1</text>
</svg>
</body></html>
